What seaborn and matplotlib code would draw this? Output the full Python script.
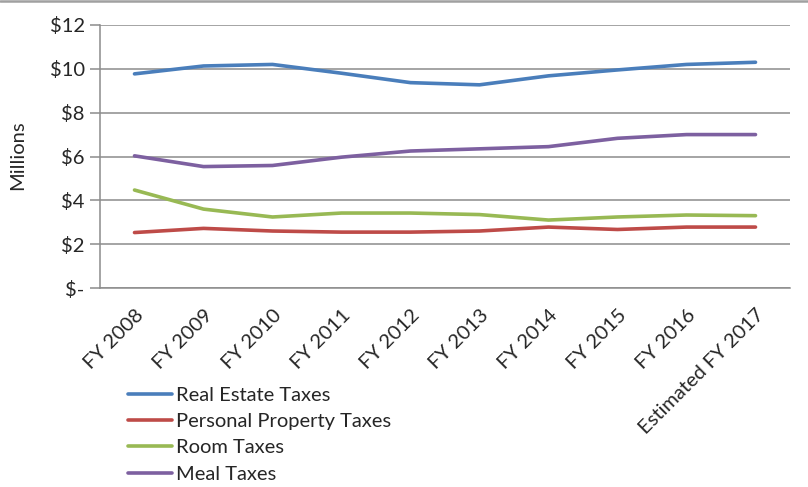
import numpy as np
import pandas as pd
import seaborn as sns
import matplotlib.pyplot as plt
from matplotlib.ticker import FixedLocator
from matplotlib.lines import Line2D

years = ['FY 2008', 'FY 2009', 'FY 2010', 'FY 2011', 'FY 2012',
         'FY 2013', 'FY 2014', 'FY 2015', 'FY 2016', 'Estimated FY 2017']

real_estate = [9.77, 10.13, 10.2, 9.8, 9.37, 9.27, 9.68, 9.95, 10.2, 10.3]
personal_property = [2.53, 2.72, 2.6, 2.55, 2.55, 2.6, 2.78, 2.67, 2.78, 2.78]
room = [4.47, 3.6, 3.24, 3.42, 3.42, 3.35, 3.1, 3.24, 3.33, 3.3]
meal = [6.03, 5.54, 5.59, 5.97, 6.25, 6.35, 6.45, 6.83, 7.0, 7.0]

series_names = ['Real Estate Taxes', 'Personal Property Taxes', 'Room Taxes', 'Meal Taxes']
colors = ['#4A7EBB', '#BE4B48', '#98B954', '#7D60A0']

ytick_vals = [0, 2, 4, 6, 8, 10, 12]
ytick_labels = ['$-', '$2', '$4', '$6', '$8', '$10', '$12']

df = pd.DataFrame({
    'year': years * 4,
    'value': real_estate + personal_property + room + meal,
    'series': np.repeat(series_names, len(years)),
})

sns.set_style('white')
plt.rcParams['font.family'] = ['Lato', 'DejaVu Sans']
fs = 14.5

fig = plt.figure(figsize=(8.08, 4.87), dpi=100)
ax = fig.add_axes([100 / 808, 1 - 288 / 487, 690 / 808, 263 / 487])

sns.lineplot(data=df, x='year', y='value', hue='series', hue_order=series_names,
             palette=colors, linewidth=2.6, sort=False, ax=ax, legend=True)

grid_c = '#8c8c8c'
ax.set_xlim(-0.5, len(years) - 0.5)
ax.set_ylim(0, 12)
ax.set_yticks(ytick_vals)
ax.set_yticklabels(ytick_labels, fontsize=fs)
ax.yaxis.grid(True, color=grid_c, linewidth=1.1)
ax.xaxis.grid(False)
ax.set_axisbelow(True)

ax.set_xticks(range(len(years)))
ax.set_xticklabels(years, rotation=45, ha='right', va='top',
                   rotation_mode='anchor', fontsize=fs)
ax.xaxis.set_minor_locator(FixedLocator(np.arange(-0.5, len(years), 1.0)))
ax.tick_params(axis='x', which='major', length=0, pad=13)
ax.tick_params(axis='x', which='minor', length=7, color=grid_c, width=1.1)
ax.tick_params(axis='y', which='major', length=7, color=grid_c, width=1.1, pad=4, left=True)

for s in ['top', 'right']:
    ax.spines[s].set_visible(False)
for s in ['left', 'bottom']:
    ax.spines[s].set_color(grid_c)
    ax.spines[s].set_linewidth(1.1)

ax.set_xlabel('')
ax.set_ylabel('')
fig.text(18 / 808, 1 - 155 / 487, 'Millions', rotation=90, fontsize=fs,
         ha='center', va='center')

handles, labels = ax.get_legend_handles_labels()
ax.get_legend().remove()
fig.legend(handles, labels, loc='upper left',
           bbox_to_anchor=(128 / 808, 1 - 387 / 487), frameon=False,
           fontsize=fs, handlelength=2.2, handletextpad=0.2,
           labelspacing=0.45, borderpad=0, borderaxespad=0)

fig.lines.append(Line2D([0, 1], [0.998, 0.998], transform=fig.transFigure,
                        color='#a0a0a0', linewidth=1.8))

fig.savefig('out.png', dpi=100)
